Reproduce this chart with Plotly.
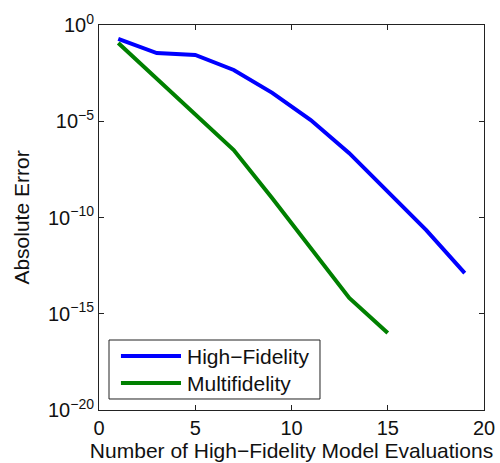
import plotly.graph_objects as go

x_hf = [1, 3, 5, 7, 9, 11, 13, 15, 17, 19]
err_hf = [1.9e-1, 3.5e-2, 2.8e-2, 4.6e-3, 3.0e-4, 1.15e-5, 2.2e-7, 2.2e-9, 2.2e-11, 1.3e-13]
x_mf = [1, 3, 5, 7, 9, 11, 13, 15]
err_mf = [1.17e-1, 1.66e-3, 2.3e-5, 3.2e-7, 1.0e-9, 2.5e-12, 6.6e-15, 1.0e-16]
names = ["High\u2212Fidelity", "Multifidelity"]
colors = ["#0000FF", "#008000"]

x_ticks = [0, 5, 10, 15, 20]
y_tickvals = [1e0, 1e-5, 1e-10, 1e-15, 1e-20]
y_ticktext = ["10<sup>0</sup>", "10<sup>\u22125</sup>", "10<sup>\u221210</sup>",
              "10<sup>\u221215</sup>", "10<sup>\u221220</sup>"]

FONT = "Liberation Sans, Arial, sans-serif"

fig = go.Figure()
fig.add_trace(go.Scatter(x=x_hf, y=err_hf, mode="lines", name=names[0],
                         line=dict(color=colors[0], width=4), showlegend=False))
fig.add_trace(go.Scatter(x=x_mf, y=err_mf, mode="lines", name=names[1],
                         line=dict(color=colors[1], width=4), showlegend=False))

# manual legend (MATLAB style)
fig.add_shape(type="rect", xref="paper", yref="paper", x0=0.026, x1=0.574, y0=0.0286, y1=0.1818,
              line=dict(color="#222", width=1), fillcolor="white", layer="above")
rows = [0.140, 0.070]
for i in range(2):
    fig.add_shape(type="line", xref="paper", yref="paper", x0=0.057, x1=0.213, y0=rows[i], y1=rows[i],
                  line=dict(color=colors[i], width=4), layer="above")
    fig.add_annotation(xref="paper", yref="paper", x=0.231, y=rows[i], text=names[i],
                       showarrow=False, xanchor="left", yanchor="middle", xshift=-3,
                       font=dict(family=FONT, size=21, color="#111"))

axis_common = dict(showline=True, linecolor="#222", linewidth=1, mirror="ticks",
                   ticks="inside", ticklen=5, tickcolor="#222", showgrid=False, zeroline=False,
                   automargin=False,
                   tickfont=dict(family=FONT, size=20, color="#111"))

fig.update_layout(
    width=500, height=463,
    margin=dict(l=99, r=16, t=25, b=53),
    paper_bgcolor="white", plot_bgcolor="white",
    xaxis=dict(range=[0, 20], tickvals=x_ticks,
               title=dict(text="Number of High\u2212Fidelity Model Evaluations",
                          font=dict(family=FONT, size=21, color="#111"), standoff=2),
               **axis_common),
    yaxis=dict(type="log", range=[-20, 0], tickvals=y_tickvals, ticktext=y_ticktext,
               title=dict(text="Absolute Error", font=dict(family=FONT, size=21, color="#111"),
                          standoff=12),
               **axis_common),
)

fig.write_html("out.html")
